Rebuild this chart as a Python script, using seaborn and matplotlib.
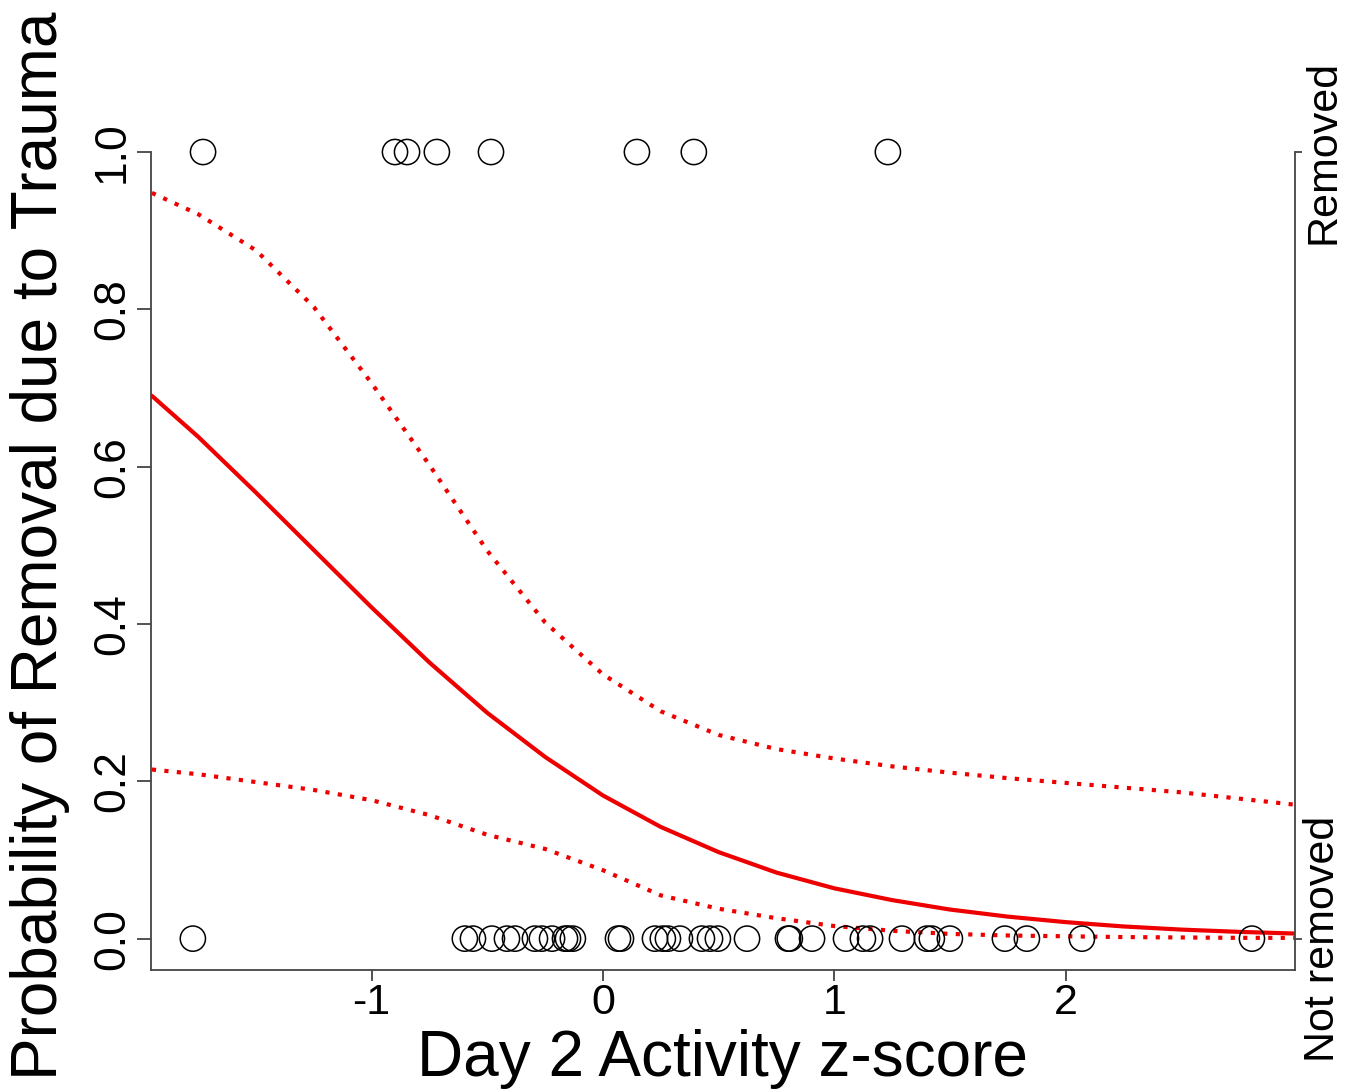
import numpy as np
import pandas as pd
import seaborn as sns
import matplotlib.pyplot as plt

# observed z-scores, split by outcome
x_removed = [-1.729, -0.899, -0.847, -0.718, -0.484, 0.147, 0.393, 1.232]
x_not_removed = [-1.773, -0.597, -0.562, -0.480, -0.415, -0.380, -0.294, -0.264,
                 -0.220, -0.164, -0.151, -0.130, 0.065, 0.078, 0.225, 0.259,
                 0.281, 0.333, 0.428, 0.463, 0.497, 0.623, 0.800, 0.808,
                 0.904, 1.051, 1.124, 1.155, 1.293, 1.401, 1.422, 1.500,
                 1.738, 1.833, 2.071, 2.806]

# fitted probability and confidence band
curve_x = [-1.95, -1.75, -1.5, -1.25, -1.0, -0.75, -0.5, -0.25, 0.0, 0.25, 0.5,
           0.75, 1.0, 1.25, 1.5, 1.75, 2.0, 2.25, 2.5, 2.75, 3.0]
fit_p = [0.690, 0.638, 0.567, 0.494, 0.421, 0.351, 0.287, 0.231, 0.182, 0.142,
         0.110, 0.084, 0.064, 0.049, 0.037, 0.028, 0.021, 0.0155, 0.0115,
         0.0086, 0.0064]
upper_p = [0.948, 0.921, 0.875, 0.803, 0.706, 0.602, 0.493, 0.402, 0.336, 0.289,
           0.259, 0.241, 0.229, 0.219, 0.211, 0.204, 0.198, 0.192, 0.186, 0.178,
           0.170]
lower_p = [0.215, 0.209, 0.199, 0.189, 0.176, 0.157, 0.132, 0.114, 0.087, 0.055,
           0.038, 0.026, 0.016, 0.010, 0.006, 0.004, 0.003, 0.002, 0.0015, 0.001,
           0.001]

y_ticks = [0.0, 0.2, 0.4, 0.6, 0.8, 1.0]
x_ticks = [-1, 0, 1, 2]

pts = pd.DataFrame({
    "z": x_removed + x_not_removed,
    "removed": [1] * len(x_removed) + [0] * len(x_not_removed),
})
curves = pd.DataFrame({"z": curve_x, "fit": fit_p, "hi": upper_p, "lo": lower_p})

sns.set_style("white")
plt.rcParams['font.family'] = ['Liberation Sans', 'DejaVu Sans']
plt.rcParams['text.color'] = 'black'
plt.rcParams['axes.labelcolor'] = 'black'
plt.rcParams['xtick.color'] = 'black'
plt.rcParams['ytick.color'] = 'black'

fig = plt.figure(figsize=(13.53, 10.90), dpi=100)
ax = fig.add_axes([0.1116, 0.110, 0.8455, 0.7794])

sns.scatterplot(data=pts, x="z", y="removed", ax=ax, marker="o", s=330,
                facecolors="none", edgecolor="black", linewidth=1.1, zorder=3)
sns.lineplot(data=curves, x="z", y="fit", ax=ax, color="#ee0000", lw=3,
             sort=False, estimator=None, zorder=2)
for col in ["hi", "lo"]:
    sns.lineplot(data=curves, x="z", y=col, ax=ax, color="#ee0000", lw=3,
                 linestyle=(0, (1, 2)), sort=False, estimator=None, zorder=2)

ax.set_xlim(-1.954, 2.992)
ax.set_ylim(-0.04, 1.04)
ax.set_xticks(x_ticks)
ax.set_xticklabels([str(t) for t in x_ticks], fontsize=31)
ax.set_yticks(y_ticks)
ax.set_yticklabels([f"{t:.1f}" for t in y_ticks], fontsize=32, rotation=90,
                   va="center")
ax.tick_params(axis="x", direction="out", length=8, width=1.3, color="#444444",
               bottom=True, pad=1)
ax.tick_params(axis="y", direction="out", length=10, width=1.3, color="#444444",
               left=True, pad=3)
ax.set_xlabel("Day 2 Activity z-score", fontsize=46)
ax.set_ylabel("Probability of Removal due to Trauma", fontsize=46)
ax.xaxis.set_label_coords(0.5, -0.069, transform=ax.transAxes)
ax.xaxis.label.set_va("top")
ax.yaxis.set_label_coords(-0.097, 0.5, transform=ax.transAxes)
ax.yaxis.label.set_va("center")
ax.yaxis.label.set_ha("center")

for side in ["left", "right", "bottom"]:
    ax.spines[side].set_color("#444444")
    ax.spines[side].set_linewidth(1.3)
ax.spines["top"].set_visible(False)
ax.spines["left"].set_bounds(-0.04, 1.0)
ax.spines["right"].set_bounds(-0.04, 1.0)

ax2 = ax.twinx()
ax2.set_ylim(ax.get_ylim())
ax2.set_yticks([0, 1])
ax2.set_yticklabels(["Not removed", "Removed"], fontsize=31, rotation=90, va="center")
ax2.tick_params(axis="y", direction="out", length=5, width=1.3, color="#444444",
                right=True, pad=1)
for side in ax2.spines:
    ax2.spines[side].set_visible(False)

fig.savefig("out.png", dpi=100, facecolor="white")
